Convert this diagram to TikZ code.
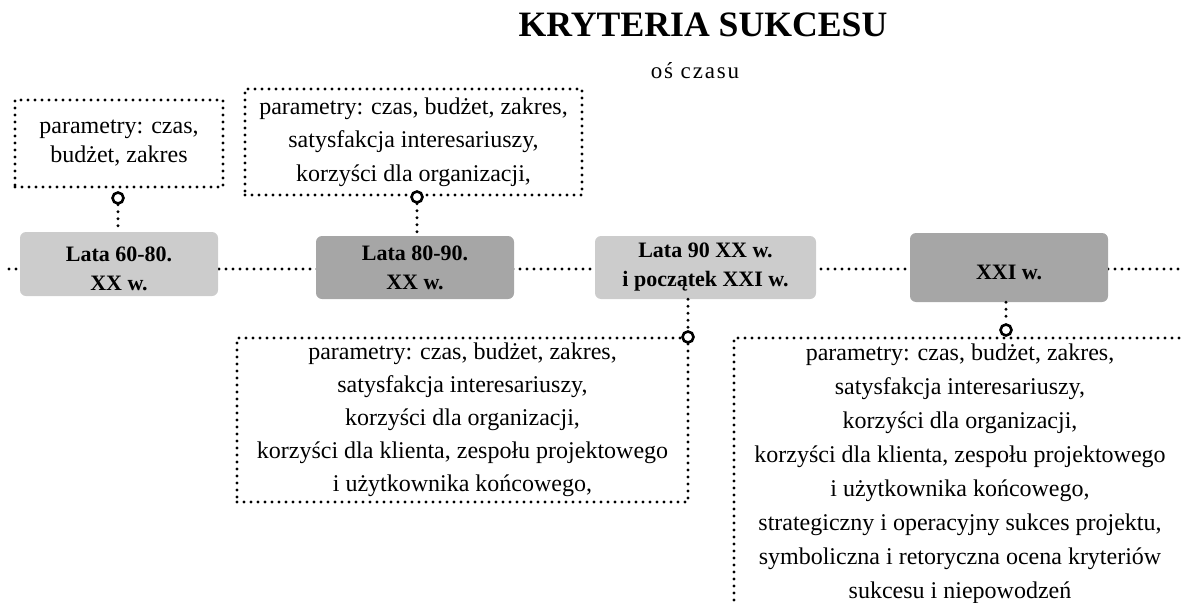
\documentclass[tikz,border=0pt]{standalone}
\usepackage{fontspec}
\setmainfont{Liberation Serif}

\definecolor{lightbox}{HTML}{CCCCCC}
\definecolor{darkbox}{HTML}{A6A6A6}

\begin{document}
\begin{tikzpicture}[x = 1pt, y = -1pt]
			\useasboundingbox (0, 0) rectangle (1182, 602);

			% Custom styles for the dotted lines, the period boxes and the notes
			\tikzset{dotline/.style = {line width = 3.2pt, line cap = round, dash pattern = on 0pt off 7pt}}
			\tikzset{period/.style = {rounded corners = 6pt, inner sep = 0pt, align = center, font = \fontsize{22}{29}\selectfont\bfseries}}
			\tikzset{note/.style = {dotline, draw, inner sep = 0pt, align = center, font = \fontsize{24}{33}\selectfont}}
			\tikzset{pin/.style = {circle, draw, fill = white, line width = 2.6pt, inner sep = 0pt, minimum size = 11pt}}

			% Define the coordinates
			\coordinate (T0) at (9, 269);
			\coordinate (T1) at (1186, 269);
			\coordinate (F4) at (734, 338);
			\coordinate (F4r) at (1186, 338);
			\coordinate (F4b) at (734, 606);

			% Title
			\node[anchor = base, font = \fontsize{35.7}{40}\selectfont\bfseries] (title) at (703, 37) {KRYTERIA SUKCESU};
			\node[anchor = base, font = \fontsize{23}{27}\selectfont\addfontfeature{LetterSpace = 8}] (axis) at (695, 78) {oś czasu};

			% Draw the time axis
			\draw[dotline] (T0) -- (T1);

			% Draw the period boxes
			\node[period, fill = lightbox, minimum width = 198pt, minimum height = 64pt] (P1) at (119, 264) {\rule{0pt}{24pt}Lata 60-80.\\XX w.};
			\node[period, fill = darkbox, minimum width = 198pt, minimum height = 63pt] (P2) at (415, 267.5) {Lata 80-90.\\XX w.};
			\node[period, fill = lightbox, minimum width = 221pt, minimum height = 63pt] (P3) at (705.5, 267.5) {Lata 90 XX w.\\i początek XXI w.};
			\node[period, fill = darkbox, minimum width = 198pt, minimum height = 69pt] (P4) at (1009, 267.5) {\rule{0pt}{25pt}XXI w.};

			% Draw the notes
			\node[note, minimum width = 208pt, minimum height = 87pt, font = \fontsize{24}{29}\selectfont] (N1) at (119, 143.5) {parametry: czas,\\budżet, zakres};
			\node[note, minimum width = 337pt, minimum height = 106pt, font = \fontsize{24}{33.5}\selectfont] (N2) at (413.5, 142) {parametry: czas, budżet, zakres,\\satysfakcja interesariuszy,\\korzyści dla organizacji,};
			\node[note, minimum width = 451pt, minimum height = 164pt] (N3) at (462.5, 420) {parametry: czas, budżet, zakres,\\satysfakcja interesariuszy,\\korzyści dla organizacji,\\korzyści dla klienta, zespołu projektowego\\i użytkownika końcowego,};
			% the last note runs past the edge of the page
			\draw[dotline] (F4r) -- (F4) -- (F4b);
			\node[align = center, inner sep = 0pt, font = \fontsize{24}{34}\selectfont] (N4) at (960, 474) {parametry: czas, budżet, zakres,\\satysfakcja interesariuszy,\\korzyści dla organizacji,\\korzyści dla klienta, zespołu projektowego\\i użytkownika końcowego,\\strategiczny i operacyjny sukces projektu,\\symboliczna i retoryczna ocena kryteriów\\sukcesu i niepowodzeń};

			% Draw the pins and the dotted links
			\node[pin] (K1) at (118, 198) {};
			\node[pin] (K2) at (417, 197) {};
			\node[pin] (K3) at (688, 337) {};
			\node[pin] (K4) at (1006, 330) {};
			\draw[dotline] (K1) -- (K1 |- P1.north);
			\draw[dotline] (K2) -- (K2 |- P2.north);
			\draw[dotline] (P3.south -| K3) -- (K3);
			\draw[dotline] (P4.south -| K4) -- (K4);

		\end{tikzpicture}
\end{document}
